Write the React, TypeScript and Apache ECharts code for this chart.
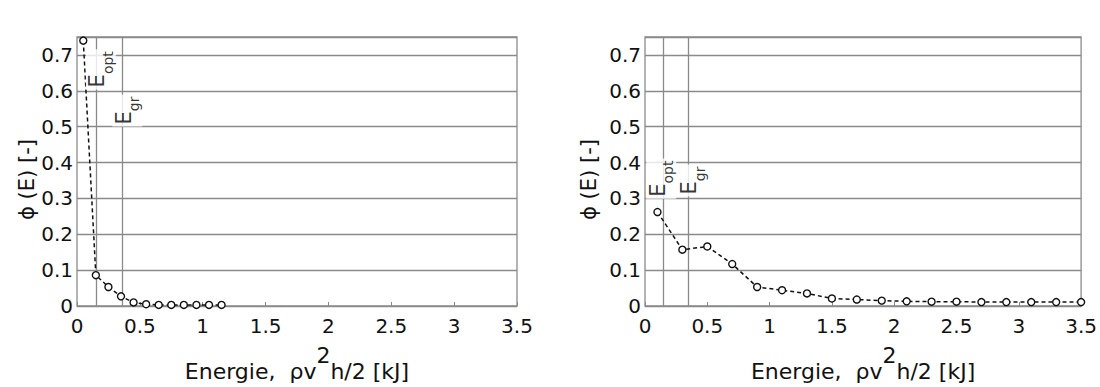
import React, { useEffect, useRef } from 'react';
import * as echarts from 'echarts';

// ---- data ----
const leftEnergy = [0.05, 0.15, 0.25, 0.35, 0.45, 0.55, 0.65, 0.75, 0.85, 0.95, 1.05, 1.15];
const leftPhi = [0.74, 0.086, 0.053, 0.027, 0.01, 0.005, 0.003, 0.003, 0.003, 0.003, 0.003, 0.003];

const rightEnergy = [0.1, 0.3, 0.5, 0.7, 0.9, 1.1, 1.3, 1.5, 1.7, 1.9, 2.1, 2.3, 2.5, 2.7, 2.9, 3.1, 3.3, 3.5];
const rightPhi = [0.262, 0.157, 0.166, 0.117, 0.053, 0.044, 0.035, 0.021, 0.018, 0.015, 0.013, 0.012, 0.012, 0.011, 0.011, 0.011, 0.011, 0.011];

const leftLimits = [0.155, 0.36]; // E_opt, E_gr
const rightLimits = [0.155, 0.35]; // E_opt, E_gr
const limitNames = ['opt', 'gr'];

const xTickLabels = ['0', '0.5', '1', '1.5', '2', '2.5', '3', '3.5'];
const yTickLabels = ['0', '0.1', '0.2', '0.3', '0.4', '0.5', '0.6', '0.7'];

const FONT = 'DejaVu Sans';
const TXT = '#111';
const GRIDC = '#8a8a8a';

function xAxisFor(gridIndex: number) {
  return {
    type: 'value',
    gridIndex,
    min: 0,
    max: 3.5,
    interval: 0.5,
    axisLine: { show: false },
    axisTick: { show: true, inside: true, length: 4, lineStyle: { color: GRIDC } },
    splitLine: { show: false },
    axisLabel: {
      fontFamily: FONT,
      fontSize: 20,
      color: TXT,
      margin: 10,
      formatter: (v: number) => xTickLabels[Math.round(v / 0.5)] ?? '',
    },
    name: '{a|Energie,  ρv}{s|2}{a|h/2 [kJ]}',
    nameLocation: 'middle',
    nameGap: 38,
    nameTextStyle: {
      fontFamily: FONT,
      fontSize: 22,
      color: TXT,
      rich: {
        a: { fontFamily: FONT, fontSize: 22, color: TXT, lineHeight: 38, verticalAlign: 'bottom' },
        s: { fontFamily: FONT, fontSize: 22, color: TXT, lineHeight: 38, verticalAlign: 'top' },
      },
    },
  };
}

function yAxisFor(gridIndex: number, nameGap: number) {
  return {
    type: 'value',
    gridIndex,
    min: 0,
    max: 0.75,
    interval: 0.1,
    axisLine: { show: false },
    axisTick: { show: true, inside: true, length: 4, lineStyle: { color: GRIDC } },
    splitLine: { show: true, lineStyle: { color: GRIDC, width: 1.3 } },
    axisLabel: {
      fontFamily: FONT,
      fontSize: 20,
      color: TXT,
      margin: 4,
      padding: [7, 0, 0, 0],
      showMaxLabel: false,
      formatter: (v: number) => {
        const i = Math.round(v / 0.1);
        return Math.abs(v - i * 0.1) < 1e-6 ? yTickLabels[i] ?? '' : '';
      },
    },
    name: 'ϕ (E) [-]',
    nameLocation: 'middle',
    nameRotate: 90,
    nameGap,
    nameTextStyle: { fontFamily: FONT, fontSize: 21, color: TXT, padding: [0, 16, 0, 0] },
  };
}

function curveSeries(idx: number, xs: number[], ys: number[], limits: number[]) {
  return {
    type: 'line',
    xAxisIndex: idx,
    yAxisIndex: idx,
    data: xs.map((x, i) => [x, ys[i]]),
    symbol: 'circle',
    symbolSize: 7,
    showAllSymbol: true,
    lineStyle: { color: '#111', width: 1.5, type: [4, 3] },
    itemStyle: { color: '#fff', borderColor: '#111', borderWidth: 1.4 },
    z: 4,
    markLine: {
      silent: true,
      symbol: ['none', 'none'],
      label: { show: false },
      lineStyle: { color: GRIDC, width: 1.3, type: 'solid' },
      data: limits.map((v) => ({ xAxis: v })),
      z: 2,
    },
  };
}

function labelSeries(idx: number, pos: number[][]) {
  return {
    type: 'scatter',
    xAxisIndex: idx,
    yAxisIndex: idx,
    symbolSize: 0,
    itemStyle: { color: '#fff' },
    silent: true,
    z: 10,
    data: pos.map((p, i) => ({ value: p, name: limitNames[i] })),
    label: {
      show: true,
      position: 'inside',
      rotate: 90,
      color: '#000',
      backgroundColor: '#fff',
      padding: [1, 2, 1, 2],
      formatter: (p: any) => `{e|E}{s|${p.name}}`,
      rich: {
        e: { fontFamily: FONT, fontSize: 21, color: '#000', lineHeight: 28, verticalAlign: 'top' },
        s: { fontFamily: FONT, fontSize: 14, color: '#000', lineHeight: 28, verticalAlign: 'bottom' },
      },
    },
  };
}

export default function App() {
  const ref = useRef<HTMLDivElement>(null);
  useEffect(() => {
    if (!ref.current) return;
    const chart = echarts.init(ref.current, undefined, { renderer: 'svg' });
    chart.setOption({
      animation: false,
      backgroundColor: '#fff',
      grid: [
        { left: 77, right: 583, top: 37, bottom: 79, show: true, borderColor: GRIDC, borderWidth: 1.3 },
        { left: 645, right: 16, top: 37, bottom: 79, show: true, borderColor: GRIDC, borderWidth: 1.3 },
      ],
      xAxis: [xAxisFor(0), xAxisFor(1)],
      yAxis: [yAxisFor(0, 34), yAxisFor(1, 46)],
      series: [
        curveSeries(0, leftEnergy, leftPhi, leftLimits),
        curveSeries(1, rightEnergy, rightPhi, rightLimits),
        labelSeries(0, [[0.19, 0.66], [0.4, 0.545]]),
        labelSeries(1, [[0.13, 0.355], [0.385, 0.35]]),
      ],
    });
    return () => chart.dispose();
  }, []);
  return (
    <div
      ref={ref}
      style={{ position: 'absolute', left: 0, top: 0, width: 1100, height: 387, background: '#fff' }}
    />
  );
}
